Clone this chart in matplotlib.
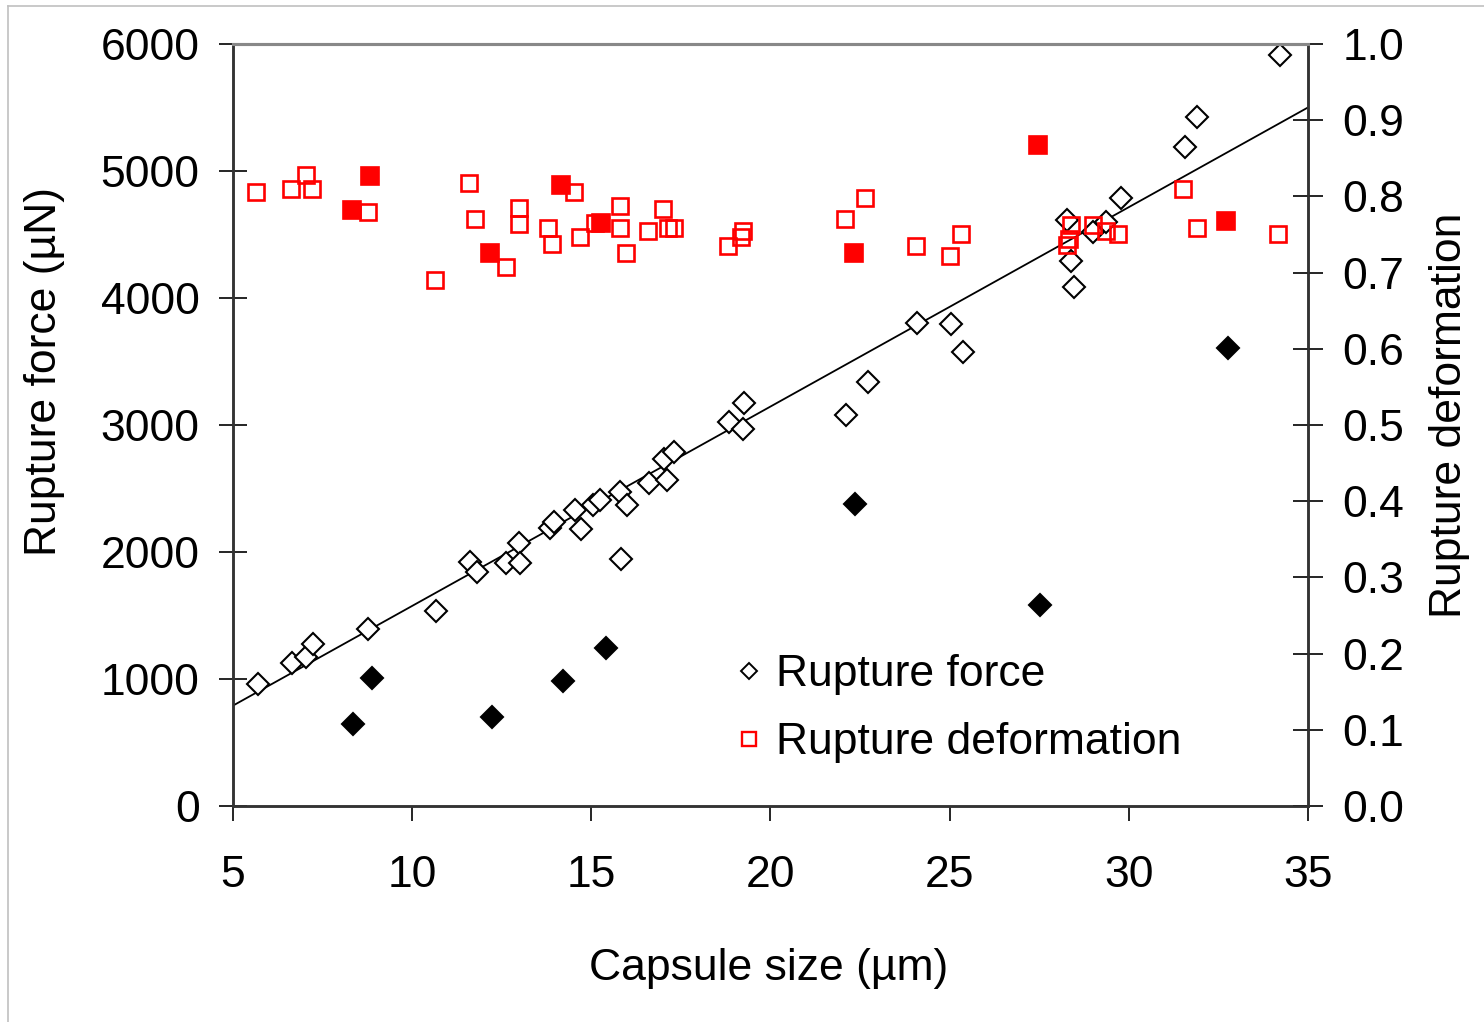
import numpy as np
import matplotlib
matplotlib.use("Agg")
import matplotlib.pyplot as plt
from matplotlib.lines import Line2D

plt.rcParams["font.family"] = ["Liberation Sans", "DejaVu Sans"]

# Rupture force, open diamonds (capsule size um, force uN)
force_size = [5.70, 6.65, 7.04, 7.23, 8.77, 10.67, 11.61, 11.81, 12.62, 12.98,
              13.01, 13.85, 13.96, 14.54, 14.71, 15.05, 15.24, 15.80, 15.99, 15.83,
              16.60, 17.11, 17.03, 17.30, 18.84, 19.23, 19.26, 22.11, 22.71, 24.08,
              25.04, 25.37, 28.28, 28.40, 28.46, 29.01, 29.37, 29.77, 31.58, 31.90,
              34.22]
force_val = [961, 1126, 1173, 1276, 1394, 1535, 1921, 1843, 1913, 2071,
             1913, 2189, 2236, 2331, 2181, 2370, 2409, 2472, 2370, 1945,
             2541, 2567, 2732, 2787, 3026, 2969, 3171, 3079, 3341, 3801,
             3795, 3577, 4614, 4291, 4084, 4522, 4601, 4784, 5191, 5425,
             5913]

# Rupture force, filled diamonds
force_size_f = [8.35, 8.88, 12.23, 14.21, 15.41, 22.37, 27.52, 32.76]
force_val_f = [646, 1008, 701, 984, 1244, 2378, 1583, 3604]

# Rupture deformation, open squares
deform_size = [5.65, 6.61, 7.03, 7.21, 8.77, 11.59, 11.76, 10.63, 12.97, 12.97,
               12.61, 13.79, 13.90, 14.52, 14.68, 15.11, 15.79, 15.79, 15.98, 16.58,
               17.00, 17.15, 17.30, 18.82, 19.17, 19.24, 22.07, 22.65, 24.05, 25.00,
               25.31, 28.28, 28.34, 28.40, 29.01, 29.37, 29.70, 31.51, 31.89, 34.17]
deform_val = [0.806, 0.810, 0.828, 0.810, 0.779, 0.818, 0.770, 0.690, 0.785, 0.764,
              0.707, 0.759, 0.738, 0.806, 0.746, 0.765, 0.787, 0.759, 0.726, 0.755,
              0.783, 0.759, 0.759, 0.735, 0.747, 0.754, 0.770, 0.798, 0.735, 0.722,
              0.750, 0.736, 0.744, 0.762, 0.762, 0.755, 0.751, 0.810, 0.759, 0.751]

# Rupture deformation, filled squares
deform_size_f = [8.33, 8.83, 12.18, 14.16, 15.28, 22.33, 27.47, 32.72]
deform_val_f = [0.782, 0.827, 0.726, 0.815, 0.765, 0.726, 0.867, 0.767]

# linear trend line for rupture force (uN per um, uN)
trend_slope = 157.0
trend_intercept = 5.0

FS = 32
RED = "#ff0000"

fig = plt.figure(figsize=(14.84, 10.22), dpi=100)
ax = fig.add_axes([0.157, 0.2114, 0.7244, 0.7456])
ax2 = ax.twinx()

xfit = np.array([5, 35])
ax.plot(xfit, trend_slope * xfit + trend_intercept, color="black", lw=1.3, zorder=2)

ax.plot(force_size, force_val, "D", ms=11.5, mfc="white", mec="black", mew=1.5,
        ls="none", zorder=3)
ax.plot(force_size_f, force_val_f, "D", ms=11.5, mfc="black", mec="black", mew=1.5,
        ls="none", zorder=3)

ax2.plot(deform_size, deform_val, "s", ms=12, mfc="none", mec=RED, mew=1.9, ls="none")
ax2.plot(deform_size_f, deform_val_f, "s", ms=12.5, mfc=RED, mec=RED, mew=1.2, ls="none")

ax.set_xlim(5, 35)
ax.set_ylim(0, 6000)
ax2.set_ylim(0, 1.0)
ax.set_xticks(range(5, 36, 5))
ax.set_yticks(range(0, 6001, 1000))
ax2.set_yticks(np.arange(0, 1.01, 0.1))
ax2.set_yticklabels([f"{v:.1f}" for v in np.arange(0, 1.01, 0.1)])

ax.tick_params(axis="x", direction="out", length=11, width=1.2, labelsize=FS, pad=24)
ax.tick_params(axis="y", direction="inout", length=20, width=1.2, labelsize=FS, pad=14)
ax2.tick_params(axis="y", direction="inout", length=22, width=1.2, labelsize=FS, pad=14)

for a in (ax, ax2):
    for s in ("left", "right", "bottom"):
        a.spines[s].set_linewidth(1.8)
        a.spines[s].set_color("#333333")
    a.spines["top"].set_linewidth(2.2)
    a.spines["top"].set_color("#888888")

ax.set_xlabel("Capsule size (µm)", fontsize=FS, va="top")
ax.xaxis.set_label_coords(0.498, -0.187)
ax.set_ylabel("Rupture force (µN)", fontsize=FS, va="center")
ax.yaxis.set_label_coords(-0.175, 0.57)
ax2.set_ylabel("Rupture deformation", fontsize=FS, va="center", rotation=90)
ax2.yaxis.set_label_coords(1.132, 0.513)

handles = [
    Line2D([], [], marker="D", ls="none", ms=8.5, mfc="white", mec="black", mew=1.4),
    Line2D([], [], marker="s", ls="none", ms=10, mfc="none", mec=RED, mew=1.7),
]
ax2.legend(handles, ["Rupture force", "Rupture deformation"], loc="upper left",
           bbox_to_anchor=(0.443, 0.228), frameon=False, fontsize=FS,
           handlelength=0.8, handletextpad=0.2, labelspacing=0.6, borderpad=0)

# thin frame lines along the top and left of the figure
fig.add_artist(Line2D([8 / 1484, 1], [1 - 6 / 1022, 1 - 6 / 1022], color="#c0c0c0", lw=1.2))
fig.add_artist(Line2D([8 / 1484, 8 / 1484], [0, 1 - 6 / 1022], color="#c0c0c0", lw=1.2))

fig.savefig("out.png", dpi=100)
